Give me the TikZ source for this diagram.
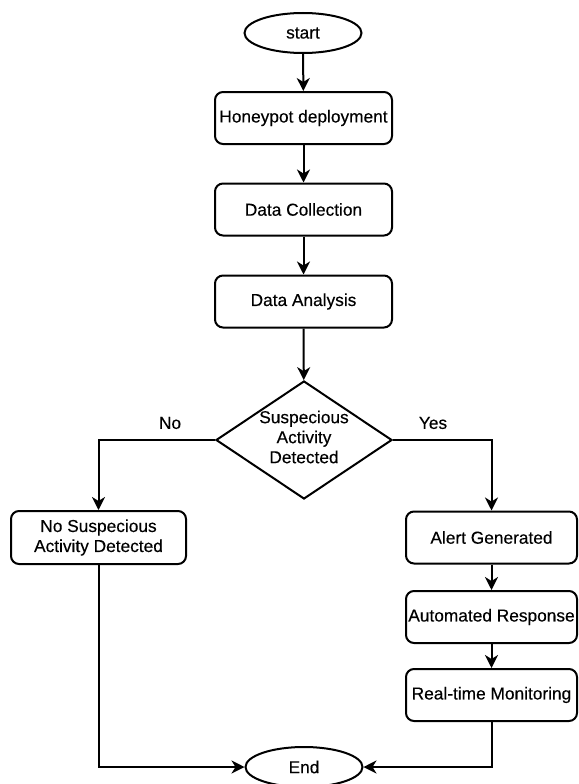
\documentclass[tikz,border=0pt]{standalone}
\usepackage{fontspec}
\setmainfont[UprightFeatures={FakeBold=0.3}]{Liberation Sans}
\usetikzlibrary{shapes.geometric,arrows.meta}
\begin{document}
\begin{tikzpicture}[x=1pt,y=-1pt,
  every node/.style={font=\fontsize{17.3}{20}\selectfont, text=black},
  proc/.style={draw, line width=2pt, rounded corners=8pt, minimum height=52pt, inner sep=0pt, align=center},
  term/.style={draw, line width=2pt, ellipse, minimum width=117pt, minimum height=40pt, inner sep=0pt},
  dec/.style={draw, line width=2pt, diamond, minimum width=176pt, minimum height=118pt, inner sep=0pt, aspect=1.5, align=center},
  conn/.style={line width=2pt, -{Stealth[length=13pt,width=13pt,inset=4pt]}},
  lbl/.style={inner sep=0pt}
]
\useasboundingbox (0,0) rectangle (578,784);
\node[term] (start) at (303,33) {start};
\node[proc, minimum width=177pt] (honey) at (303.5,118) {Honeypot deployment};
\node[proc, minimum width=177pt] (collect) at (303.5,209.5) {Data Collection};
\node[proc, minimum width=177pt] (analysis) at (303.5,301.5) {Data Analysis};
\node[dec] (dec) at (304,440) {};
\node[lbl, align=center] (dectext) at (304,437) {Suspecious\\Activity\\Detected};
\node[proc, minimum width=175pt, minimum height=53pt] (nosus) at (98.5,537.5) {No Suspecious\\Activity Detected};
\node[proc, minimum width=171pt] (alert) at (491.5,537.5) {Alert Generated};
\node[proc, minimum width=171pt] (auto) at (491.5,617) {Automated Response};
\node[proc, minimum width=171pt] (monitor) at (491.5,695) {Real-time Monitoring};
\node[term] (end) at (304,767) {End};
\node[lbl] (no) at (170,423) {No};
\node[lbl] (yes) at (433,423) {Yes};

\draw[conn] (start) -- (honey);
\draw[conn] (honey) -- (collect);
\draw[conn] (collect) -- (analysis);
\draw[conn] (analysis) -- (dec);
\draw[conn] (dec.west) -| (nosus.north);
\draw[conn] (dec.east) -| (alert.north);
\draw[conn] (alert) -- (auto);
\draw[conn] (auto) -- (monitor);
\draw[conn] (nosus.south) |- (end.west);
\draw[conn] (monitor.south) |- (end.east);
\end{tikzpicture}
\end{document}
